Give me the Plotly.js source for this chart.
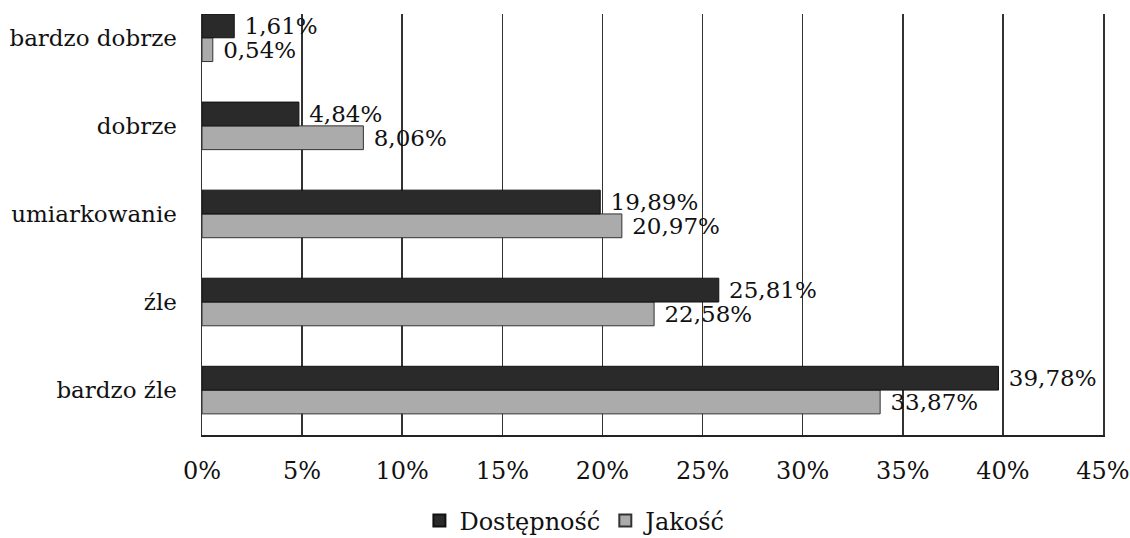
<!DOCTYPE html>
<html><head><meta charset="utf-8">
<script src="https://cdn.plot.ly/plotly-3.0.1.min.js"></script>
<style>body{margin:0;background:#fff}#c{width:1130px;height:538px}</style>
</head><body><div id="c"></div>
<script>
const categories = ["bardzo źle", "źle", "umiarkowanie", "dobrze", "bardzo dobrze"];
const dostepnosc = [39.78, 25.81, 19.89, 4.84, 1.61];
const jakosc = [33.87, 22.58, 20.97, 8.06, 0.54];
const xTicks = [0, 5, 10, 15, 20, 25, 30, 35, 40, 45];
const fmt = v => ' ' + v.toFixed(2).replace('.', ',') + '%';
const font = "DejaVu Serif, serif";
const traces = [
  {type:'bar', orientation:'h', name:'Jakość', y:categories, x:jakosc,
   text:jakosc.map(fmt), textposition:'outside', cliponaxis:false, constraintext:'none',
   textfont:{family:font,size:23,color:'#111'},
   marker:{color:'#ababab', line:{color:'#333', width:1}}},
  {type:'bar', orientation:'h', name:'Dostępność', y:categories, x:dostepnosc,
   text:dostepnosc.map(fmt), textposition:'outside', cliponaxis:false, constraintext:'none',
   textfont:{family:font,size:23,color:'#111'},
   marker:{color:'#2a2a2a', line:{color:'#111', width:1}}}
];
const layout = {
  width:1130, height:538,
  margin:{l:202, r:27, t:14, b:103, autoexpand:false},
  barmode:'group', bargap:0.46, bargroupgap:0,
  paper_bgcolor:'#fff', plot_bgcolor:'#fff',
  font:{family:font, size:23, color:'#111'},
  xaxis:{range:[0,45], tickvals:xTicks, ticktext:xTicks.map(v=>v+'%'),
    showgrid:true, gridcolor:'#333', gridwidth:1.5, zeroline:false,
    showline:true, linecolor:'#222', linewidth:1.5, ticks:'', ticklen:0,
    ticklabelstandoff:14,
    tickfont:{family:font,size:24,color:'#111'}, fixedrange:true},
  yaxis:{range:[-0.51, 4.27], showgrid:false, zeroline:false,
    showline:true, mirror:true, linecolor:'#333', linewidth:1.5, ticks:'',
    ticklabelstandoff:19, tickfont:{family:font,size:23,color:'#111'}, fixedrange:true},
  showlegend:true,
  legend:{orientation:'h', x:0.415, xanchor:'center', y:-0.204, yanchor:'middle',
    traceorder:'reversed', font:{family:font,size:24,color:'#111'}, itemwidth:30,
    itemsizing:'constant'}
};
Plotly.newPlot('c', traces, layout, {displayModeBar:false, staticPlot:true});
</script></body></html>
